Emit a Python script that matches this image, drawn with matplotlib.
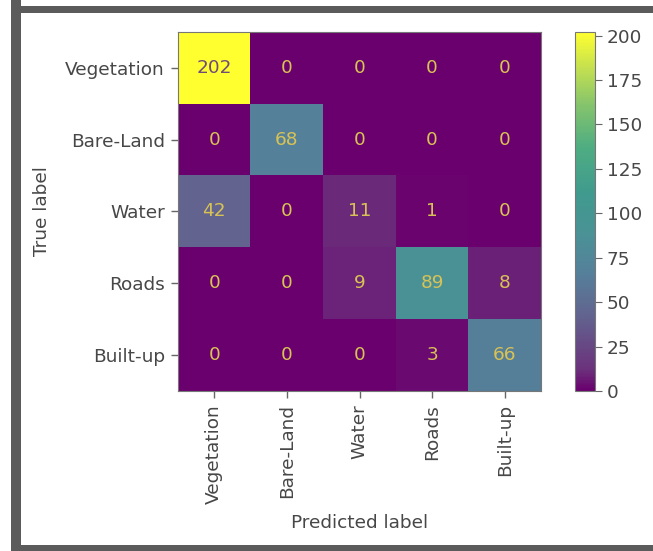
import numpy as np
import matplotlib
matplotlib.use("Agg")
import matplotlib.pyplot as plt
from matplotlib.colors import LinearSegmentedColormap
from matplotlib.patches import Rectangle

classes = ["Vegetation", "Bare-Land", "Water", "Roads", "Built-up"]
cm_rows = [
    [202, 0, 0, 0, 0],
    [0, 68, 0, 0, 0],
    [42, 0, 11, 1, 0],
    [0, 0, 9, 89, 8],
    [0, 0, 0, 3, 66],
]
cbar_ticks = [0, 25, 50, 75, 100, 125, 150, 175, 200]

cm = np.array(cm_rows)

cmap = LinearSegmentedColormap.from_list(
    "cm_viridis_soft",
    [(0.0, "#6a006e"), (0.06, "#6b327c"), (0.21, "#62648f"),
     (0.33, "#55809a"), (0.44, "#4a9296"), (0.55, "#409a8e"),
     (0.68, "#4fad82"), (0.80, "#86c46c"), (0.90, "#c4e050"),
     (1.0, "#ffff30")])

text_gray = "#474747"
plt.rcParams["font.family"] = "DejaVu Sans"
plt.rcParams["text.color"] = text_gray
plt.rcParams["axes.labelcolor"] = text_gray
plt.rcParams["xtick.color"] = text_gray
plt.rcParams["ytick.color"] = text_gray

W, H = 653, 551
fig = plt.figure(figsize=(W / 100, H / 100), dpi=100)
fig.patch.set_facecolor("white")

# window frame
frame = "#5b5b5b"
for (x0, y0, w, h) in [(11, 0, 10, 551), (11, 6, 642, 7), (11, 545, 642, 6)]:
    fig.patches.append(Rectangle((x0 / W, 1 - (y0 + h) / H), w / W, h / H,
                                 transform=fig.transFigure, facecolor=frame,
                                 edgecolor="none", zorder=-2))

fs = 13.3
ax_l, ax_r, ax_t, ax_b = 178, 541, 32, 391
ax = fig.add_axes([ax_l / W, 1 - ax_b / H, (ax_r - ax_l) / W, (ax_b - ax_t) / H])
im = ax.imshow(cm, cmap=cmap, vmin=0, vmax=cm.max(), aspect="auto",
               interpolation="nearest")

thresh = cm.max() / 2.0
for i in range(cm.shape[0]):
    for j in range(cm.shape[1]):
        col = "#704c78" if cm[i, j] > thresh else "#d8c255"
        ax.text(j, i, f"{cm[i, j]}", ha="center", va="center",
                color=col, fontsize=fs)

n = len(classes)
ax.set_xticks(range(n))
ax.set_yticks(range(n))
ax.set_xticklabels(classes, rotation=90, fontsize=fs)
ax.set_yticklabels(classes, fontsize=fs)
ax.set_xlabel("Predicted label", fontsize=fs, labelpad=7)
ax.set_ylabel("True label", fontsize=fs, labelpad=10)
ax.tick_params(length=5, width=1, color="#666666", pad=4.5)
for s in ax.spines.values():
    s.set_color("#777777")

cb_l, cb_r = 575, 595
cax = fig.add_axes([cb_l / W, 1 - ax_b / H, (cb_r - cb_l) / W, (ax_b - ax_t) / H])
cb = fig.colorbar(im, cax=cax, ticks=cbar_ticks)
cb.ax.tick_params(labelsize=fs, length=5, color="#666666")
cb.outline.set_edgecolor("#777777")

fig.savefig("out.png", dpi=100)
